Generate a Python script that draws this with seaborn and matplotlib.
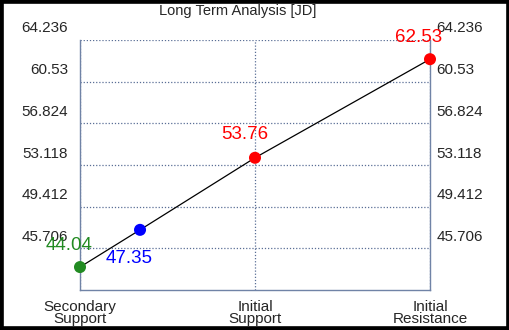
import matplotlib
matplotlib.use("Agg")
import matplotlib.pyplot as plt
import matplotlib.transforms as mtransforms
from matplotlib.patches import Rectangle
import seaborn as sns
import pandas as pd

# ---- data ----
categories = ["Secondary\nSupport", "Initial\nSupport", "Initial\nResistance"]
category_pos = [0, 1, 2]
point_x = [0, 0.343, 1, 2]
point_values = [44.04, 47.35, 53.76, 62.53]
point_labels = ["44.04", "47.35", "53.76", "62.53"]
point_colors = ["#228B22", "#0000FF", "#FF0000", "#FF0000"]
label_offsets = [(-11, 22), (-11, -29), (-10, 23), (-11, 22)]  # pixels (x, y up)
y_ticks = [45.706, 49.412, 53.118, 56.824, 60.53, 64.236]
y_tick_labels = ["45.706", "49.412", "53.118", "56.824", "60.53", "64.236"]
y_min, y_max = 42.0, 64.236
title = "Long Term Analysis [JD]"

sns.set_style("white")
plt.rcParams["font.family"] = ["Liberation Sans", "DejaVu Sans"]

W, H = 510, 330
fig = plt.figure(figsize=(W / 100, H / 100), dpi=100, facecolor="white")
ax = fig.add_axes([80 / W, 1 - 290 / H, 350 / W, 250 / H])

df = pd.DataFrame({"x": point_x, "y": point_values, "c": point_colors})
sns.lineplot(data=df, x="x", y="y", ax=ax, color="black", linewidth=0.9, zorder=3,
             clip_on=False)
sns.scatterplot(data=df, x="x", y="y", hue="c", palette={c: c for c in point_colors},
                ax=ax, s=75, edgecolor="none", legend=False, zorder=4, clip_on=False)

for xv, yv, lab, col, (dx, dy) in zip(point_x, point_values, point_labels, point_colors, label_offsets):
    ax.annotate(lab, (xv, yv), xytext=(dx, dy), textcoords="offset pixels",
                ha="center", va="center", color=col, fontsize=13.5, zorder=5,
                annotation_clip=False)

ax.set_xlim(0, 2)
ax.set_ylim(y_min, y_max)
ax.set_xlabel("")
ax.set_ylabel("")

spine_col = "#7083a6"
grid_col = "#5a6f96"
ax.set_xticks(category_pos)
ax.set_xticklabels(categories, fontsize=11, linespacing=0.85)
ax.set_yticks(y_ticks)
ax.set_yticklabels(y_tick_labels, fontsize=11)
ax.grid(True, axis="both", color=grid_col, linestyle=(0, (1, 1.5)), linewidth=0.9)
ax.tick_params(axis="x", length=0, pad=7)
ax.tick_params(axis="y", length=0, pad=8.5)
for s in ["left", "right", "bottom"]:
    ax.spines[s].set_visible(True)
    ax.spines[s].set_color(spine_col)
    ax.spines[s].set_linewidth(1.0)
ax.spines["top"].set_visible(False)

# right-side labels
ax2 = ax.twinx()
ax2.set_ylim(y_min, y_max)
ax2.set_yticks(y_ticks)
ax2.set_yticklabels(y_tick_labels, fontsize=11)
ax2.tick_params(axis="y", length=0, pad=4.5)
for s in ax2.spines.values():
    s.set_visible(False)
ax2.grid(False)
ax2.set_zorder(ax.get_zorder() - 1)
ax.set_facecolor("none")
ax2.set_facecolor("white")

shift = mtransforms.ScaledTranslation(0, 13 / 100, fig.dpi_scale_trans)
for lab in ax.get_yticklabels() + ax2.get_yticklabels():
    lab.set_transform(lab.get_transform() + shift)

fig.text(238 / W, 1 - 11 / H, title, ha="center", va="center", fontsize=10.5)

# black frame
fig.patches.append(Rectangle((0, 0), 1, 1, transform=fig.transFigure, fill=False,
                             edgecolor="black", linewidth=5.5, zorder=10))

fig.savefig("out.png", dpi=100, facecolor="white")
